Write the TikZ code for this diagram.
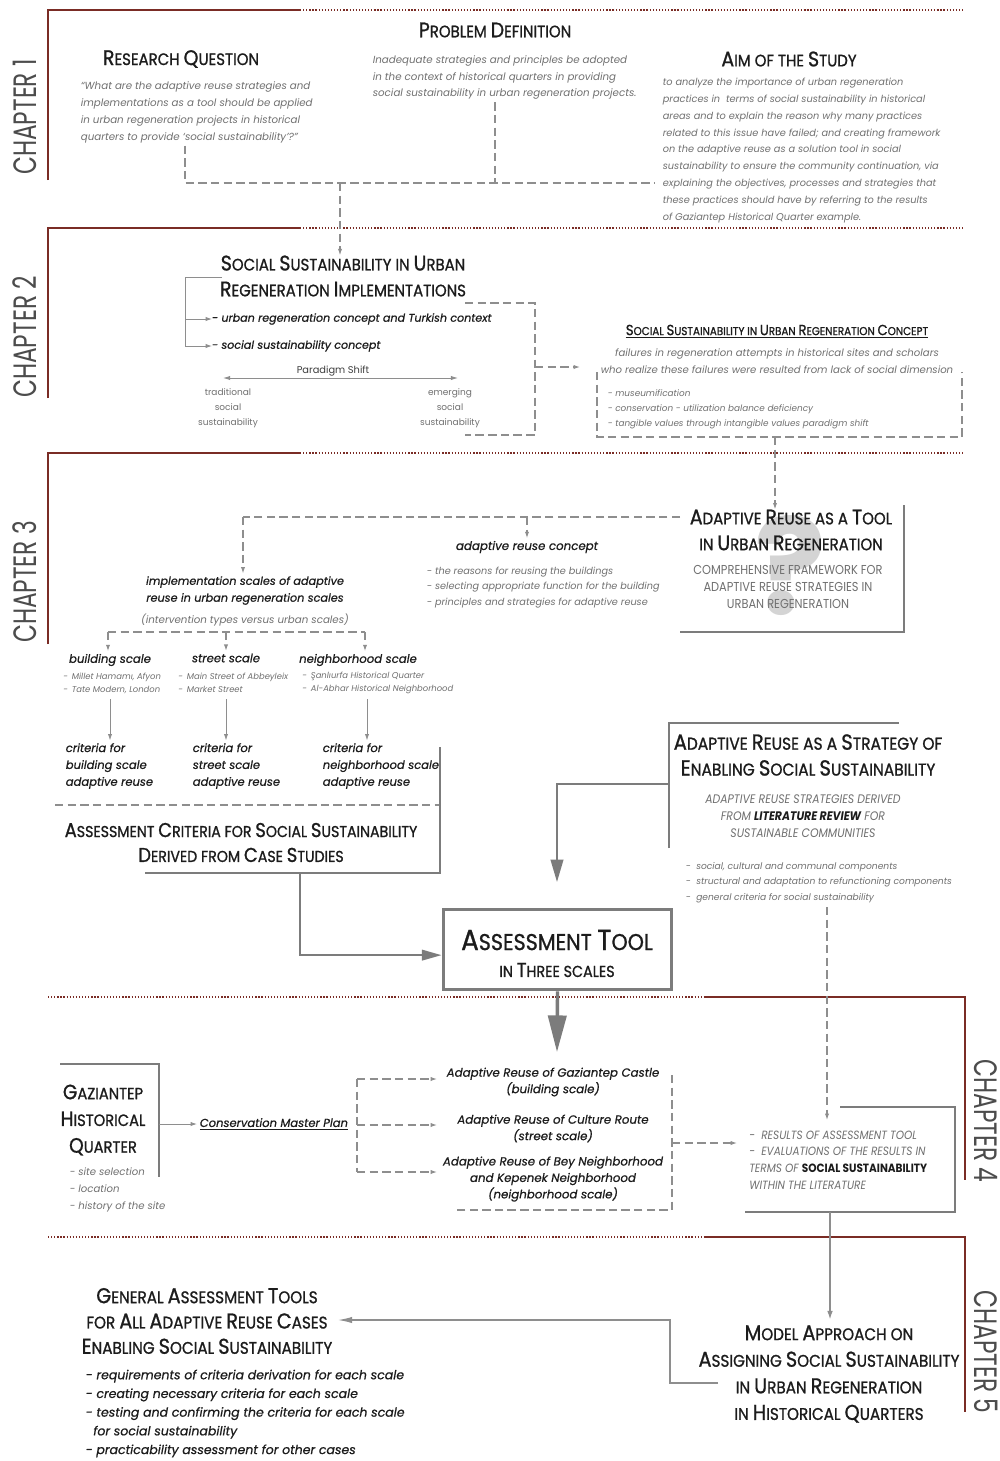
\documentclass[tikz,border=0pt]{standalone}
\usepackage{fontspec}
\usepackage{graphicx}
\usetikzlibrary{arrows.meta}
\setmainfont{Poppins}
\newfontfamily\hdfont{Poppins}[FakeStretch=0.9,FakeBold=1]
\newfontfamily\cpfont{Poppins}[FakeStretch=0.88]
\newfontfamily\mdfont{Poppins}[FakeBold=0.6]
\newfontfamily\chfont{Poppins}[FakeStretch=0.72]
\definecolor{chapred}{HTML}{7A2C25}
\definecolor{lg}{HTML}{8E8E8E}
\definecolor{bx}{HTML}{7C7C7C}
\definecolor{tg}{HTML}{707070}
\definecolor{dk}{HTML}{1C1C1C}
% small-caps look: enlarged initial followed by capitals
\newcommand\Sc[2]{\scalebox{1.27}{#1}#2}
\begin{document}
\begin{tikzpicture}[x=0.025cm,y=-0.025cm,
  chapsolid/.style={draw=chapred,line width=1.3pt},
  chapdot/.style={draw=chapred,line width=0.9pt,dash pattern=on 0.9pt off 1.3pt},
  chaplabel/.style={font=\chfont\fontsize{23}{23}\selectfont,text=black!70,inner sep=0},
  hd/.style={font=\hdfont\fontsize{11.8}{18.4}\selectfont,text=dk,align=center,inner sep=0},
  capg/.style={font=\cpfont\fontsize{9.2}{12.4}\selectfont,text=tg,align=center,inner sep=0},
  gtxt/.style={font=\fontsize{7.3}{11.9}\selectfont\itshape,text=tg,align=left,inner sep=0,outer sep=2pt},
  dtxt/.style={font=\mdfont\fontsize{7.9}{12.3}\selectfont\itshape,text=dk,align=left,inner sep=0,outer sep=2pt},
  tinytxt/.style={font=\fontsize{6}{9.2}\selectfont\itshape,text=tg,align=left,inner sep=0},
  uptxt/.style={font=\fontsize{6.4}{10.6}\selectfont,text=tg,align=center,inner sep=0},
  thinline/.style={draw=lg,line width=0.6pt},
  thinarr/.style={thinline,-{Latex[length=4.5pt,width=3pt]}},
  dline/.style={draw=lg,line width=0.75pt,dash pattern=on 6pt off 3pt},
  darr/.style={dline,-{Latex[length=4.5pt,width=3pt]}},
  boxline/.style={draw=bx,line width=1.5pt},
]
\useasboundingbox (0,0) rectangle (1000,1461);
\fill[white] (0,0) rectangle (1000,1461);

% ---------- chapter frames ----------
\draw[chapsolid] (48,180) -- (48,10) -- (300,10);
\draw[chapdot] (300,10) -- (965,10);
\draw[chapsolid] (48,398) -- (48,228) -- (300,228);
\draw[chapdot] (300,228) -- (965,228);
\draw[chapsolid] (48,644) -- (48,453) -- (300,453);
\draw[chapdot] (300,453) -- (965,453);
\draw[chapdot] (48,997) -- (705,997);
\draw[chapsolid] (705,997) -- (965,997) -- (965,1180);
\draw[chapdot] (48,1237) -- (705,1237);
\draw[chapsolid] (705,1237) -- (965,1237) -- (965,1412);

\node[chaplabel,rotate=90] (ch1) at (25,117) {CHAPTER 1};
\node[chaplabel,rotate=90] (ch2) at (25,337) {CHAPTER 2};
\node[chaplabel,rotate=90] (ch3) at (25,582) {CHAPTER 3};
\node[chaplabel,rotate=-90] (ch4) at (986,1121) {CHAPTER 4};
\node[chaplabel,rotate=-90] (ch5) at (986,1352) {CHAPTER 5};

% ---------- chapter 1 ----------
\node[hd] (pdh) at (495,30) {\Sc{P}{ROBLEM} \Sc{D}{EFINITION}};
\node[gtxt,anchor=west] (pdt) at (370,77.5) {Inadequate strategies and principles be adopted\\in the context of historical quarters in providing\\social sustainability in urban regeneration projects.};
\node[hd] (rqh) at (181,59) {\Sc{R}{ESEARCH} \Sc{Q}{UESTION}};
\node[gtxt,anchor=west] (rqt) at (78,112.5) {``What are the adaptive reuse strategies and\\implementations as a tool should be applied\\in urban regeneration projects in historical\\quarters to provide `social sustainability'?''};
\node[hd] (aimh) at (789,59) {\Sc{A}{IM} OF THE \Sc{S}{TUDY}};
\node[gtxt,anchor=west,font=\fontsize{6.95}{12}\selectfont\itshape] (aimt) at (660,150.5) {to analyze the importance of urban regeneration\\practices in \ terms of social sustainability in historical\\areas and to explain the reason why many practices\\related to this issue have failed; and creating framework\\on the adaptive reuse as a solution tool in social\\sustainability to ensure the community continuation, via\\explaining the objectives, processes and strategies that\\these practices should have by referring to the results\\of Gaziantep Historical Quarter example.};

\coordinate (jq) at (185,183);
\coordinate (jp) at (495,183);
\coordinate (ja) at (655,183);
\coordinate (jm) at (340,183);
\draw[dline] (rqt.south -| jq) -- (jq) -- (ja);
\draw[dline] (pdt.south -| jp) -- (jp);

% ---------- chapter 2 ----------
\node[hd] (ssh) at (343,276) {\Sc{S}{OCIAL} \Sc{S}{USTAINABILITY} IN \Sc{U}{RBAN}\\\Sc{R}{EGENERATION} \Sc{I}{MPLEMENTATIONS}};
\draw[darr] (jm) -- (ssh.north -| jm);
\node[dtxt,anchor=west,outer sep=0] (urc) at (212,319) {- urban regeneration concept and Turkish context};
\node[dtxt,anchor=west,outer sep=0] (ssc) at (212,346) {- social sustainability concept};
\coordinate (b0) at (222,277);
\coordinate (b1) at (185,277);
\draw[thinline] (b0) -- (b1) -- (b1 |- ssc.west);
\draw[thinarr] (b1 |- urc.west) -- (urc.west);
\draw[thinarr] (b1 |- ssc.west) -- (ssc.west);

\node[font=\fontsize{7}{8}\selectfont,text=dk!85,inner sep=0] (pst) at (333,371) {Paradigm Shift};
\coordinate (pl) at (223,378);
\coordinate (pr) at (458,378);
\draw[thinline,{Latex[length=5pt,width=3pt]}-{Latex[length=5pt,width=3pt]}] (pl) -- (pr);
\node[uptxt] (tss) at (228,408) {traditional\\social\\sustainability};
\node[uptxt] (ess) at (450,408) {emerging\\social\\sustainability};

\coordinate (k1) at (465,303);
\coordinate (k2) at (535,303);
\coordinate (k3) at (535,435);
\coordinate (k4) at (465,435);
\coordinate (k5) at (535,367);
\coordinate (k6) at (580,367);
\draw[dline] (k1) -- (k2) -- (k3) -- (k4);
\draw[darr] (k5) -- (k6);

\node[hd,font=\hdfont\fontsize{8.2}{10}\selectfont] (ssurc) at (777,330) {\Sc{S}{OCIAL} \Sc{S}{USTAINABILITY} IN \Sc{U}{RBAN} \Sc{R}{EGENERATION} \Sc{C}{ONCEPT}};
\draw[dk,line width=0.5pt] ([yshift=-1.6pt]ssurc.south west) -- ([yshift=-1.6pt]ssurc.south east);
\node[gtxt,align=center,font=\fontsize{7.2}{12}\selectfont\itshape] (fail) at (777,361.5) {failures in regeneration attempts in historical sites and scholars\\who realize these failures were resulted from lack of social dimension};
\coordinate (m1) at (597,372);
\coordinate (m2) at (597,437);
\coordinate (m3) at (962,437);
\coordinate (m4) at (962,372);
\draw[dline] (m1) -- (m2) -- (m3) -- (m4);
\node[gtxt,anchor=west,font=\fontsize{6.3}{10.6}\selectfont\itshape] (mus) at (605,409) {- museumification\\- conservation - utilization balance deficiency\\- tangible values through intangible values paradigm shift};

% ---------- chapter 3 ----------
\node[font=\fontsize{95}{95}\selectfont\bfseries,text=black!17,inner sep=0] (qm) at (790,566) {?};
\node[hd] (art) at (791,530) {\Sc{A}{DAPTIVE} \Sc{R}{EUSE} AS A \Sc{T}{OOL}\\IN \Sc{U}{RBAN} \Sc{R}{EGENERATION}};
\coordinate (m5) at (775,437);
\draw[darr] (m5) -- (art.north -| m5);
\node[capg] (cfw) at (788,587) {COMPREHENSIVE FRAMEWORK FOR\\ADAPTIVE REUSE STRATEGIES IN\\URBAN REGENERATION};
\coordinate (r1) at (680,632);
\coordinate (r2) at (904,632);
\coordinate (r3) at (904,505);
\draw[boxline] (r1) -- (r2) -- (r3);

\node[dtxt,align=center,font=\mdfont\fontsize{8.4}{12}\selectfont\itshape] (arc) at (527,547) {adaptive reuse concept};
\node[gtxt,anchor=west,font=\fontsize{6.9}{11}\selectfont\itshape] (arcl) at (424,587.5) {- the reasons for reusing the buildings\\- selecting appropriate function for the building\\- principles and strategies for adaptive reuse};
\node[dtxt,align=center,font=\mdfont\fontsize{8}{12}\selectfont\itshape] (isc) at (245,590.5) {implementation scales of adaptive\\reuse in urban regeneration scales};
\node[gtxt,align=center] (itv) at (245,620) {(intervention types versus urban scales)};

\coordinate (d0) at (680,517);
\coordinate (d1) at (243,517);
\coordinate (d2) at (527,517);
\draw[dline] (d0) -- (d1);
\draw[darr] (d1) -- (isc.north -| d1);
\draw[darr] (d2) -- (arc.north -| d2);

\node[dtxt,align=center,font=\mdfont\fontsize{8.3}{12}\selectfont\itshape] (bsc) at (110,660) {building scale};
\node[dtxt,align=center,font=\mdfont\fontsize{8.3}{12}\selectfont\itshape] (ssl) at (226,658) {street scale};
\node[dtxt,align=center,font=\mdfont\fontsize{8.3}{12}\selectfont\itshape] (nsc) at (358,660) {neighborhood scale};
\coordinate (s1) at (108,632);
\coordinate (s2) at (226,632);
\coordinate (s3) at (365,632);
\draw[dline] (s1) -- (s3);
\draw[darr] (s1) -- (bsc.north -| s1);
\draw[darr] (s2) -- (ssl.north -| s2);
\draw[darr] (s3) -- (nsc.north -| s3);

\node[tinytxt,anchor=west] (bex) at (63,683.5) {- \,Millet Hamamı, Afyon\\- \,Tate Modern, London};
\node[tinytxt,anchor=west] (sex) at (178,682.5) {- \,Main Street of Abbeyleix\\- \,Market Street};
\node[tinytxt,anchor=west] (nex) at (302,683) {- \,Şanlıurfa Historical Quarter\\- \,Al-Abhar Historical Neighborhood};

\node[dtxt,anchor=west,font=\mdfont\fontsize{8.2}{12}\selectfont\itshape] (cb) at (63,766) {criteria for\\building scale\\adaptive reuse};
\node[dtxt,anchor=west,font=\mdfont\fontsize{8.2}{12}\selectfont\itshape] (cs) at (190,766) {criteria for\\street scale\\adaptive reuse};
\node[dtxt,anchor=west,font=\mdfont\fontsize{8.2}{12}\selectfont\itshape] (cn) at (320,766) {criteria for\\neighborhood scale\\adaptive reuse};
\coordinate (v1) at (110,699);
\coordinate (v2) at (226,699);
\coordinate (v3) at (367,699);
\draw[thinarr] (v1) -- (cb.north -| v1);
\draw[thinarr] (v2) -- (cs.north -| v2);
\draw[thinarr] (v3) -- (cn.north -| v3);

\coordinate (e1) at (55,805);
\coordinate (e2) at (440,805);
\coordinate (e3) at (440,747);
\coordinate (e4) at (440,873);
\coordinate (e5) at (145,873);
\coordinate (e6) at (300,873);
\draw[dline] (e1) -- (e2);
\draw[boxline] (e3) -- (e4) -- (e5);
\node[hd,font=\hdfont\fontsize{11.2}{17.7}\selectfont] (acs) at (241,842.5) {\Sc{A}{SSESSMENT} \Sc{C}{RITERIA} FOR \Sc{S}{OCIAL} \Sc{S}{USTAINABILITY}\\\Sc{D}{ERIVED} FROM \Sc{C}{ASE} \Sc{S}{TUDIES}};

% assessment tool
\node[draw=bx,line width=2.2pt,minimum width=5.72cm,minimum height=2.02cm,inner sep=0] (at) at (557.5,949.5) {};
\node[hd,font=\hdfont\fontsize{16.3}{16}\selectfont] (att1) at (557,940) {\Sc{A}{SSESSMENT} \Sc{T}{OOL}};
\node[hd,font=\hdfont\fontsize{11.3}{12}\selectfont] (att2) at (557,970) {IN \Sc{T}{HREE} SCALES};
\draw[boxline,-{Triangle[length=14pt,width=7.5pt]}] (e6) |- ([yshift=-4pt]at.west);

% strategy block
\coordinate (f1) at (669,848);
\coordinate (f2) at (669,723);
\coordinate (f3) at (899,723);
\coordinate (f4) at (669,784);
\coordinate (f5) at (557,882);
\draw[boxline] (f1) -- (f2) -- (f3);
\draw[boxline,-{Triangle[length=16pt,width=9pt]}] (f4) -| (f5);
\node[hd,font=\hdfont\fontsize{12.2}{18.4}\selectfont] (ars) at (808,755) {\Sc{A}{DAPTIVE} \Sc{R}{EUSE} AS A \Sc{S}{TRATEGY} OF\\\Sc{E}{NABLING} \Sc{S}{OCIAL} \Sc{S}{USTAINABILITY}};
\node[capg,font=\cpfont\fontsize{8.8}{12}\selectfont\itshape] (ars2) at (803,816) {ADAPTIVE REUSE STRATEGIES DERIVED\\FROM {\color{dk}\bfseries LITERATURE REVIEW} FOR\\SUSTAINABLE COMMUNITIES};
\node[gtxt,anchor=west,font=\fontsize{6.5}{11}\selectfont\itshape] (arsl) at (683,882.5) {- \ social, cultural and communal components\\- \ structural and adaptation to refunctioning components\\- \ general criteria for social sustainability};
\coordinate (g1) at (827,907);
\coordinate (g2) at (827,1120);
\draw[darr] (g1) -- (g2);

\coordinate (h1) at (557,1052);
\draw[draw=bx,line width=2.4pt,-{Triangle[length=26pt,width=13pt]}] (at.south) -- (h1);

% ---------- chapter 4 ----------
\coordinate (q1) at (60,1064);
\coordinate (q2) at (159,1064);
\coordinate (q3) at (159,1177);
\draw[boxline,line width=1.2pt] (q1) -- (q2) -- (q3);
\node[hd,font=\hdfont\fontsize{11.6}{19}\selectfont] (ghq) at (103,1120) {\Sc{G}{AZIANTEP}\\\Sc{H}{ISTORICAL}\\\Sc{Q}{UARTER}};
\node[gtxt,anchor=west,font=\fontsize{7.2}{12}\selectfont\itshape] (ghl) at (67,1190) {- site selection\\- location\\- history of the site};
\node[dtxt,anchor=west,font=\mdfont\fontsize{8.2}{12}\selectfont\itshape] (cmp) at (197,1124) {\underline{Conservation Master Plan}};
\draw[thinarr] (q2 |- cmp.west) -- (cmp.west);

\coordinate (t1) at (357,1079);
\coordinate (t2) at (357,1125);
\coordinate (t3) at (357,1172);
\coordinate (u1) at (437,1079);
\coordinate (u2) at (437,1125);
\coordinate (u3) at (437,1172);
\draw[dline] (t1) -- (t3);
\draw[darr] (t1) -- (u1);
\draw[darr] (t2) -- (u2);
\draw[darr] (t3) -- (u3);
\node[dtxt,align=center,font=\mdfont\fontsize{8.4}{11.7}\selectfont\itshape] (cs1) at (553,1082) {Adaptive Reuse of Gaziantep Castle\\(building scale)};
\node[dtxt,align=center,font=\mdfont\fontsize{8.4}{11.7}\selectfont\itshape] (cs2) at (553,1128.5) {Adaptive Reuse of Culture Route\\(street scale)};
\node[dtxt,align=center,font=\mdfont\fontsize{8.4}{11.7}\selectfont\itshape] (cs3) at (553,1179) {Adaptive Reuse of Bey Neighborhood\\and Kepenek Neighborhood\\(neighborhood scale)};
\coordinate (w1) at (672,1075);
\coordinate (w2) at (672,1210);
\coordinate (w3) at (455,1210);
\coordinate (w4) at (672,1143);
\coordinate (w5) at (737,1143);
\draw[dline] (w1) -- (w2) -- (w3);
\draw[darr] (w4) -- (w5);

\coordinate (x1) at (840,1107);
\coordinate (x2) at (955,1107);
\coordinate (x3) at (955,1212);
\coordinate (x4) at (745,1212);
\draw[boxline] (x1) -- (x2) -- (x3) -- (x4);
\node[capg,anchor=west,align=left,font=\cpfont\fontsize{8.5}{11.8}\selectfont\itshape] (res) at (749,1160) {- \ RESULTS OF ASSESSMENT TOOL\\- \ EVALUATIONS OF THE RESULTS IN\\TERMS OF {\upshape\bfseries\color{dk}SOCIAL SUSTAINABILITY}\\WITHIN THE LITERATURE};

% ---------- chapter 5 ----------
\node[hd,font=\hdfont\fontsize{12}{18.9}\selectfont] (mod) at (829,1374) {\Sc{M}{ODEL} \Sc{A}{PPROACH} ON\\\Sc{A}{SSIGNING} \Sc{S}{OCIAL} \Sc{S}{USTAINABILITY}\\IN \Sc{U}{RBAN} \Sc{R}{EGENERATION}\\IN \Sc{H}{ISTORICAL} \Sc{Q}{UARTERS}};
\coordinate (y1) at (830,1212);
\draw[thinline,line width=0.9pt,-{Latex[length=6pt,width=4pt]}] (y1) -- ([yshift=4pt]mod.north -| y1);

\node[hd,font=\hdfont\fontsize{12}{18}\selectfont] (gat) at (207,1321) {\Sc{G}{ENERAL} \Sc{A}{SSESSMENT} \Sc{T}{OOLS}\\FOR \Sc{A}{LL} \Sc{A}{DAPTIVE} \Sc{R}{EUSE} \Sc{C}{ASES}\\\Sc{E}{NABLING} \Sc{S}{OCIAL} \Sc{S}{USTAINABILITY}};
\coordinate (z1) at (718,1383);
\coordinate (z2) at (670,1383);
\coordinate (z3) at (670,1320);
\coordinate (z4) at (338,1320);
\draw[thinline,line width=0.9pt,-{Latex[length=10pt,width=4.5pt]}] (z1) -- (z2) -- (z3) -- (z4);
\node[dtxt,anchor=west,font=\mdfont\fontsize{8.9}{13.3}\selectfont\itshape] (gatl) at (83,1413.5) {- requirements of criteria derivation for each scale\\- creating necessary criteria for each scale\\- testing and confirming the criteria for each scale\\\ \ for social sustainability\\- practicability assessment for other cases};
\end{tikzpicture}
\end{document}
